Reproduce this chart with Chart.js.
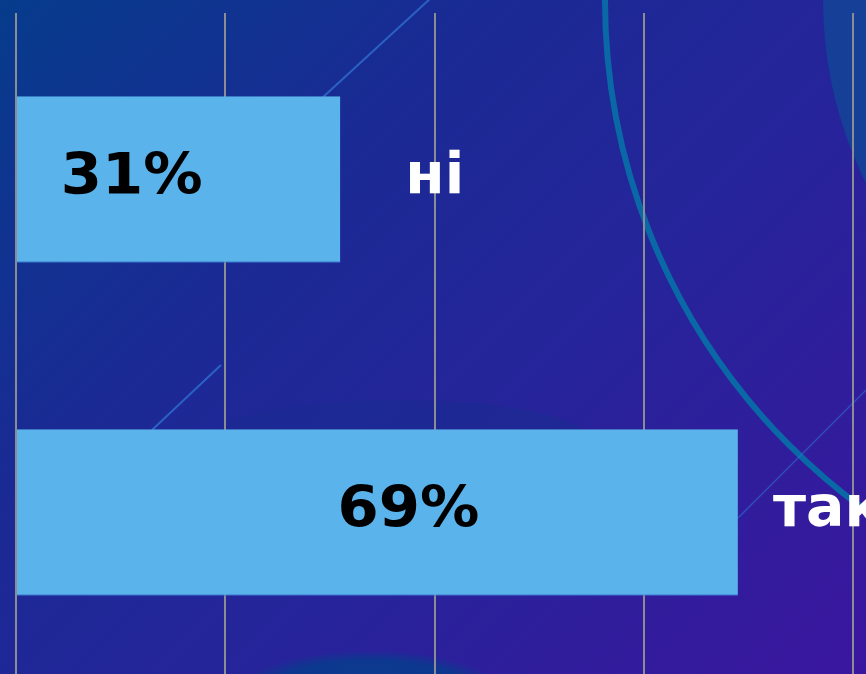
<!DOCTYPE html>
<html lang="uk">
<head>
    <meta charset="UTF-8">
    <title>ні / так</title>
    <script src="https://cdn.jsdelivr.net/npm/chart.js"></script>
    <style>
        html, body {
            margin: 0;
            padding: 0;
            width: 866px;
            height: 674px;
            overflow: hidden;
        }
        body {
            position: relative;
            background: linear-gradient(135deg, #063c8c 0%, #1a2a94 32%, #26249a 60%, #3a169e 100%);
        }
        #bg {
            position: absolute;
            left: 0;
            top: 0;
        }
        .chart-wrap {
            position: absolute;
            left: 0;
            top: 0;
            width: 866px;
            height: 680px;
        }
    </style>
</head>
<body>
    <!-- decorative background shapes -->
    <svg id="bg" width="866" height="674" xmlns="http://www.w3.org/2000/svg">
        <defs>
            <radialGradient id="blob" cx="50%" cy="50%" r="50%">
                <stop offset="0%" stop-color="#06408c" stop-opacity="1"/>
                <stop offset="80%" stop-color="#0a3a8e" stop-opacity="0.9"/>
                <stop offset="100%" stop-color="#0a3a8e" stop-opacity="0"/>
            </radialGradient>
        </defs>
        <circle cx="1235" cy="0" r="412" fill="#163f98"/>
        <circle cx="1235" cy="0" r="630" fill="none" stroke="#0a68a6" stroke-width="6"/>
        <ellipse cx="370" cy="700" rx="140" ry="50" fill="url(#blob)"/>
        <ellipse cx="400" cy="440" rx="190" ry="40" fill="#1b2c92" opacity="0.6"/>
        <line x1="432" y1="-3" x2="322" y2="98" stroke="#2f6fd0" stroke-width="2" opacity="0.8"/>
        <line x1="221" y1="365" x2="152" y2="430" stroke="#2f6fd0" stroke-width="2" opacity="0.8"/>
        <line x1="868" y1="388" x2="738" y2="518" stroke="#2f6fd0" stroke-width="1.5" opacity="0.6"/>
    </svg>

    <div class="chart-wrap">
        <canvas id="chart" width="866" height="680"></canvas>
    </div>

    <script>
        const categories = ['ні', 'так'];
        const values = [31, 69];
        const valueLabels = ['31%', '69%'];
        const axisMax = 80;
        const axisStep = 20;

        // draws the percent inside the bar and the answer text next to it
        const barLabels = {
            id: 'barLabels',
            afterDatasetsDraw(chart, args, opts) {
                const ctx = chart.ctx;
                const bars = chart.getDatasetMeta(0).data;
                ctx.save();
                ctx.font = 'bold 57px "DejaVu Sans", sans-serif';
                ctx.textBaseline = 'alphabetic';
                bars.forEach((bar, i) => {
                    const mid = (bar.base + bar.x) / 2 + opts.valueShift[i];
                    // percent glyphs in the original are a little wider
                    ctx.save();
                    ctx.translate(mid, bar.y + 14);
                    ctx.scale(1.04, 1);
                    ctx.fillStyle = '#000000';
                    ctx.textAlign = 'center';
                    ctx.fillText(valueLabels[i], 0, 0);
                    ctx.restore();

                    ctx.fillStyle = '#ffffff';
                    ctx.textAlign = 'left';
                    ctx.fillText(categories[i], bar.x + opts.nameGap[i], bar.y + 13);
                });
                ctx.restore();
            }
        };

        new Chart(document.getElementById('chart'), {
            type: 'bar',
            data: {
                labels: categories,
                datasets: [{
                    data: values,
                    backgroundColor: '#5ab3ea',
                    borderColor: '#3a72d0',
                    borderWidth: { top: 0, right: 0, bottom: 1, left: 0 },
                    borderSkipped: false,
                    barPercentage: 0.5,
                    categoryPercentage: 1.0
                }]
            },
            options: {
                indexAxis: 'y',
                responsive: false,
                animation: false,
                events: [],
                layout: {
                    padding: { left: 16, right: 13, top: 13, bottom: 1 }
                },
                plugins: {
                    legend: { display: false },
                    tooltip: { enabled: false },
                    barLabels: {
                        valueShift: [-47, 31],
                        nameGap: [65, 35]
                    }
                },
                scales: {
                    x: {
                        min: 0,
                        max: axisMax,
                        ticks: { display: false, stepSize: axisStep },
                        grid: {
                            color: '#8c8c94',
                            lineWidth: 2,
                            drawTicks: false,
                            tickLength: 0
                        },
                        border: { display: false }
                    },
                    y: {
                        display: false
                    }
                }
            },
            plugins: [barLabels]
        });
    </script>
</body>
</html>
